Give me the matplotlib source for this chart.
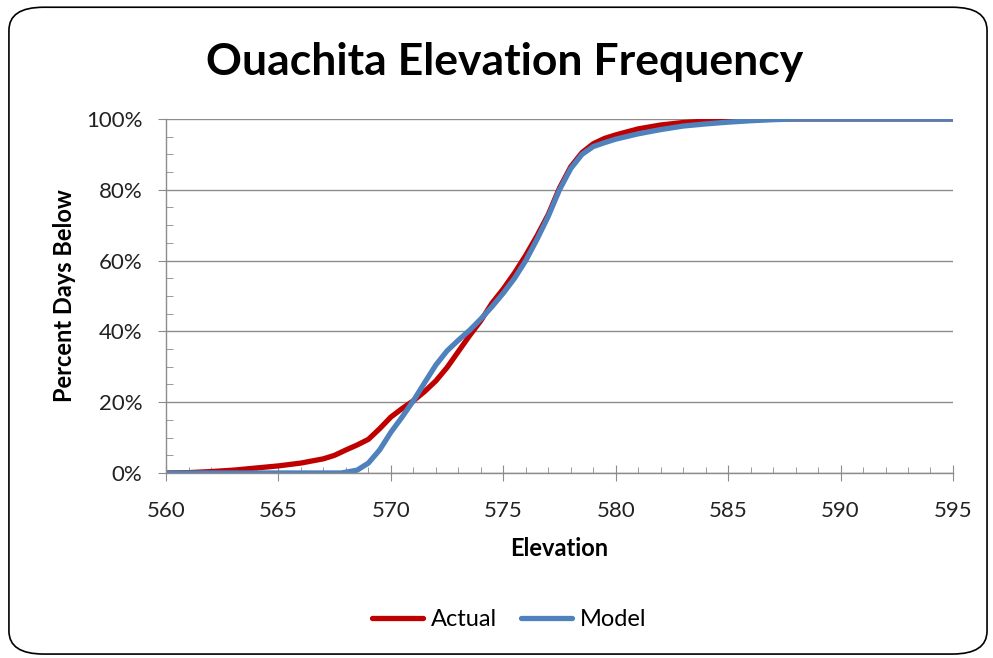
import matplotlib.pyplot as plt
from matplotlib.patches import FancyBboxPatch
from matplotlib.ticker import MultipleLocator, PercentFormatter

plt.rcParams['font.family'] = ['Lato', 'DejaVu Sans']

# elevation (ft) vs percent of days below
actual_elev = [560, 561, 562, 563, 564, 565, 566, 567, 567.5, 568, 568.5, 569, 569.5,
               570, 570.5, 571, 571.5, 572, 572.5, 573, 573.5, 574, 574.5, 575, 575.5,
               576, 576.5, 577, 577.5, 578, 578.5, 579, 579.5, 580, 581, 582, 583, 584,
               585, 586, 595]
actual_pct = [0, 0.1, 0.4, 0.8, 1.4, 2.0, 2.8, 4.0, 5.0, 6.5, 7.9, 9.5, 12.5,
              15.8, 18.2, 20.4, 23.0, 26.0, 29.8, 34.3, 38.8, 43.0, 48.0, 52.0, 56.5,
              61.5, 67.0, 73.0, 80.5, 86.5, 90.5, 93.0, 94.5, 95.5, 97.2, 98.3, 99.0, 99.4,
              99.7, 100, 100]

model_elev = [560, 567, 567.8, 568.5, 569, 569.5, 570, 570.5, 571, 571.5, 572, 572.5,
              573, 573.5, 574, 574.5, 575, 575.5, 576, 576.5, 577, 577.5, 578, 578.5,
              579, 579.5, 580, 581, 582, 583, 584, 585, 586, 587, 588, 595]
model_pct = [0, 0, 0, 0.8, 2.8, 6.5, 11.5, 15.8, 20.4, 25.5, 30.5, 34.5,
             37.5, 40.3, 43.5, 47.0, 50.8, 55.0, 60.0, 66.0, 72.5, 80.0, 86.0, 90.0,
             92.2, 93.3, 94.3, 95.8, 97.0, 98.0, 98.6, 99.1, 99.5, 99.8, 100, 100]

fig = plt.figure(figsize=(9.93, 6.58), dpi=100)
ax = fig.add_axes([0.1672, 0.2812, 0.7925, 0.5380])

# rounded chart border
border = FancyBboxPatch((0.009, 0.006), 0.985, 0.983, boxstyle="round,pad=0,rounding_size=0.035",
                        transform=fig.transFigure, fill=False, edgecolor="black", lw=1.2)
fig.patches.append(border)

ax.plot(actual_elev, actual_pct, color="#C00000", lw=3.8, label="Actual",
        solid_joinstyle="round", solid_capstyle="round")
ax.plot(model_elev, model_pct, color="#4F81BD", lw=3.8, label="Model",
        solid_joinstyle="round", solid_capstyle="round")

ax.set_xlim(560, 595)
ax.set_ylim(0, 100)
ax.xaxis.set_major_locator(MultipleLocator(5))
ax.xaxis.set_minor_locator(MultipleLocator(1))
ax.yaxis.set_major_locator(MultipleLocator(20))
ax.yaxis.set_minor_locator(MultipleLocator(5))
ax.yaxis.set_major_formatter(PercentFormatter(decimals=0))

ax.grid(axis="y", which="major", color="#8c8c8c", lw=1)
ax.set_axisbelow(True)
for s in ["top", "right"]:
    ax.spines[s].set_visible(False)
for s in ["left", "bottom"]:
    ax.spines[s].set_color("#8c8c8c")
    ax.spines[s].set_linewidth(1)

ax.tick_params(axis="x", which="major", direction="inout", length=12, color="#8c8c8c",
               labelsize=16, labelcolor="#222222", pad=14)
ax.tick_params(axis="x", which="minor", direction="in", length=4.5, color="#8c8c8c")
ax.tick_params(axis="y", which="major", direction="out", length=6, color="#8c8c8c",
               labelsize=16, labelcolor="#222222", pad=11)
ax.tick_params(axis="y", which="minor", direction="in", length=5, color="#8c8c8c")

ax.set_xlabel("Elevation", fontsize=17, fontweight="bold", labelpad=12)
ax.set_ylabel("Percent Days Below", fontsize=17, fontweight="bold", labelpad=7)

fig.text(0.508, 0.906, "Ouachita Elevation Frequency", ha="center", va="center",
         fontsize=32, fontweight="bold")

fig.legend(loc="center", bbox_to_anchor=(0.513, 0.058), ncol=2, frameon=False,
           fontsize=17, handlelength=2.15, handletextpad=0.35, columnspacing=1.0)

fig.savefig("out.png", dpi=100)
